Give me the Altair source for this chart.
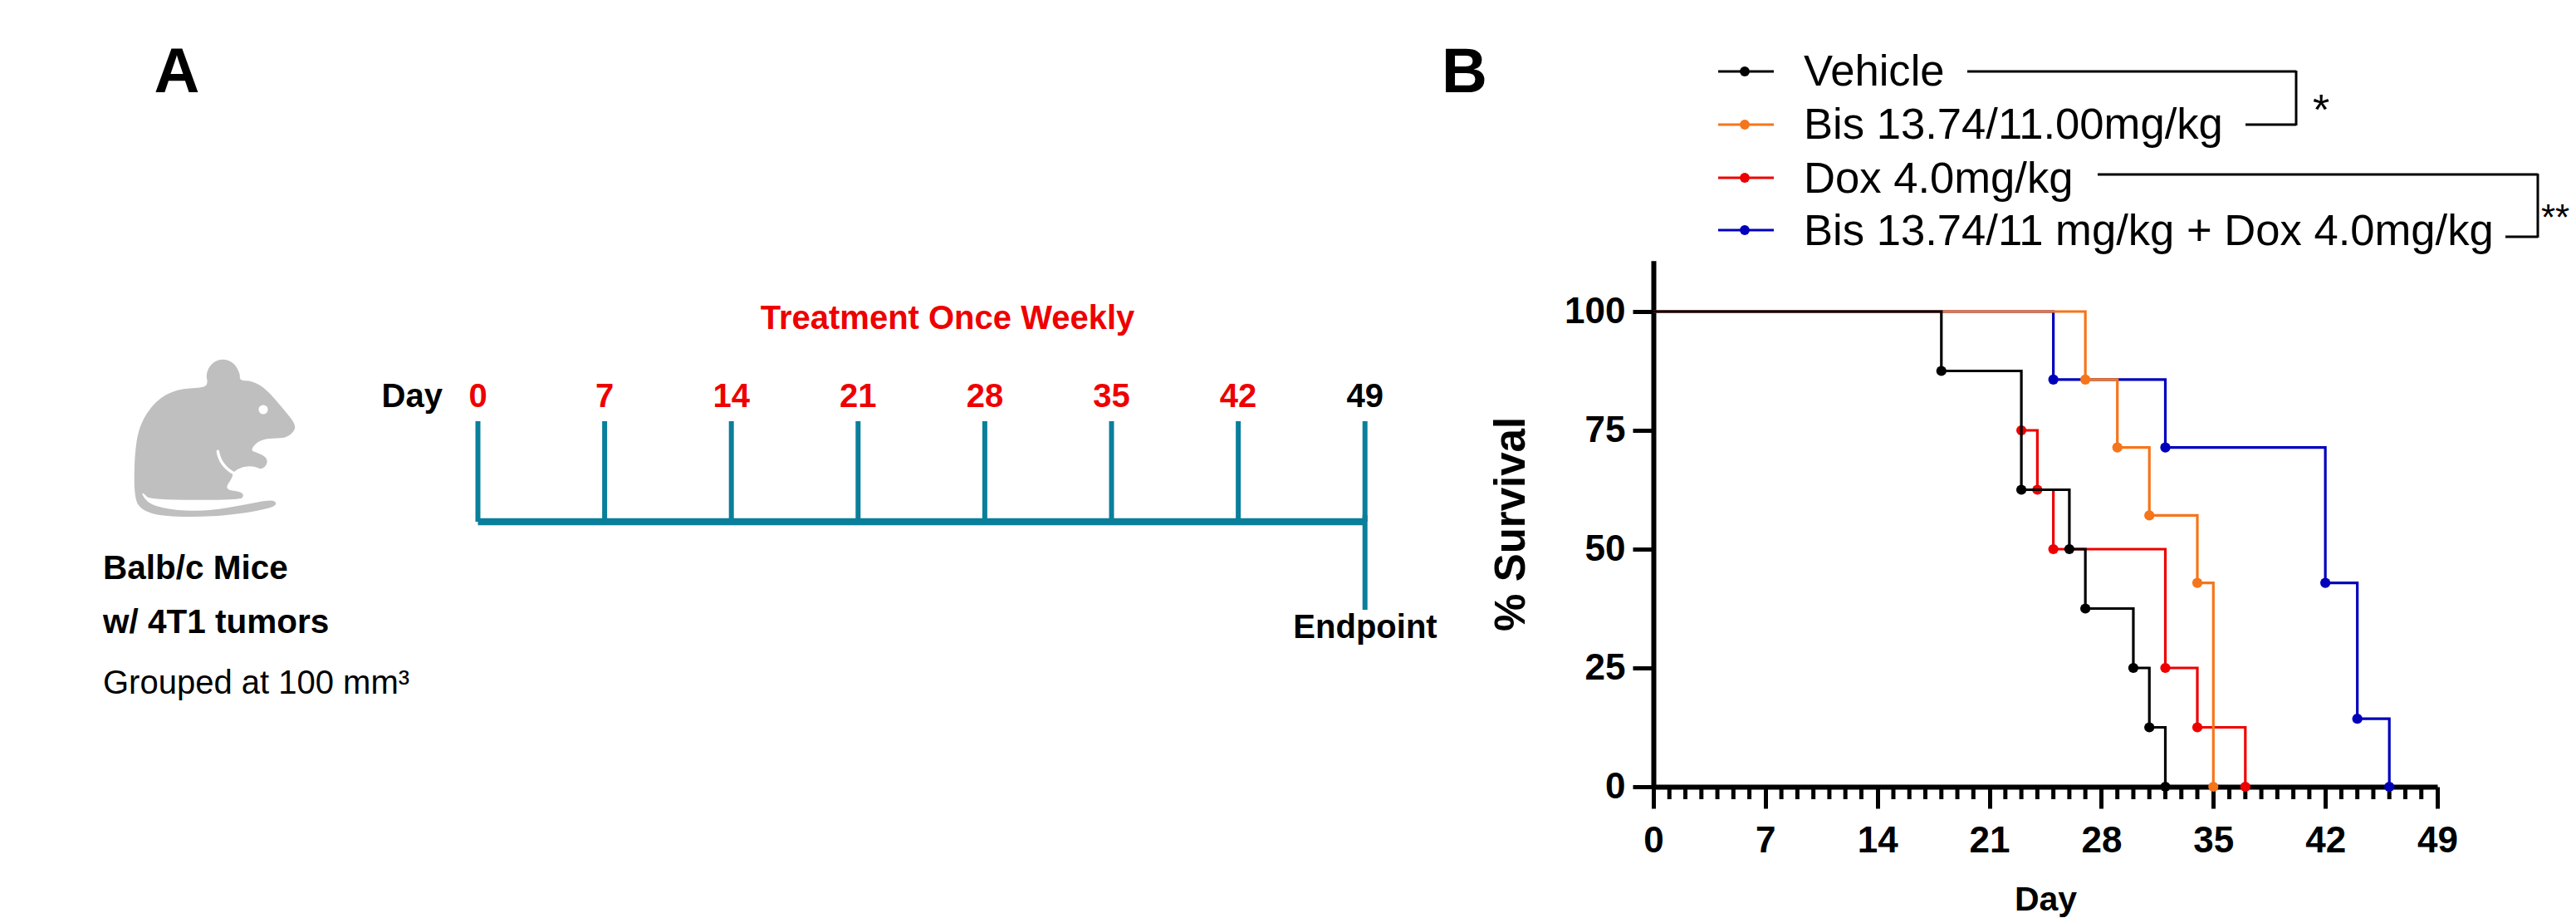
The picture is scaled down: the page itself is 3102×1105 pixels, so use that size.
import altair as alt
import pandas as pd

# ---- data ----
vehicle_days = [0, 18, 23, 26, 27, 30, 31, 32]
vehicle_surv = [100, 87.5, 62.5, 50, 37.5, 25, 12.5, 0]
bis_days = [0, 27, 29, 31, 34, 35]
bis_surv = [100, 85.7, 71.4, 57.1, 42.9, 0]
dox_days = [23, 24, 25, 32, 34, 37]
dox_surv = [75, 62.5, 50, 25, 12.5, 0]
combo_days = [0, 25, 32, 42, 44, 46]
combo_surv = [100, 85.7, 71.4, 42.9, 14.3, 0]

legend_names = ["Vehicle", "Bis 13.74/11.00mg/kg", "Dox 4.0mg/kg",
                "Bis 13.74/11 mg/kg + Dox 4.0mg/kg"]
x_ticks = [0, 7, 14, 21, 28, 35, 42, 49]
x_minor = [d for d in range(50) if d % 7]
y_ticks = [0, 25, 50, 75, 100]
timeline_days = [0, 7, 14, 21, 28, 35, 42, 49]

BLACK, ORANGE, RED, BLUE = "#000000", "#F5751B", "#EE0000", "#0000BB"
TEAL, GRAY = "#0A7F9B", "#BFBFBF"
FONT = "Liberation Sans"
W, H = 3086, 1097


def px(v):  # page pixel -> chart pixel
    return v - 8


def label(text, x, y, size, color=BLACK, bold=False, align="left"):
    kw = dict(font=FONT, fontSize=size, color=color, align=align,
              baseline="alphabetic", fontWeight="bold" if bold else "normal")
    return alt.Chart(pd.DataFrame({"t": [text]})).mark_text(**kw).encode(
        text="t:N", x=alt.value(px(x)), y=alt.value(px(y)))


def seg(x1, y1, x2, y2, color=BLACK, sw=3):
    return alt.Chart(pd.DataFrame({"a": [0]})).mark_rule(color=color, strokeWidth=sw).encode(
        x=alt.value(px(x1)), x2=alt.value(px(x2)), y=alt.value(px(y1)), y2=alt.value(px(y2)))


# ---- scales of panel B ----
sx = alt.Scale(domain=[0, 49], range=[px(1991), px(2935)], nice=False, zero=False)
sy = alt.Scale(domain=[0, 110.7], range=[px(947), px(947) - 110.7 * 5.72], nice=False, zero=False)
# ---- scale of the timeline in panel A ----
stl = alt.Scale(domain=[0, 49], range=[px(575.5), px(575.5) + 49 * 21.8], nice=False, zero=False)

layers = []

# axes of panel B (carried by an invisible point layer)
axes_df = pd.DataFrame({"d": [0, 49], "s": [0, 100]})
layers.append(
    alt.Chart(axes_df).mark_point(opacity=0).encode(
        x=alt.X("d:Q", scale=sx, axis=alt.Axis(
            values=x_ticks, title="Day", offset=px(947) - H, grid=False,
            domainColor=BLACK, domainWidth=6, tickColor=BLACK, tickWidth=5, tickSize=26,
            labelFont=FONT, labelFontSize=44, labelFontWeight="bold", labelColor=BLACK,
            labelPadding=17, labelFlush=False, labelOverlap=False, format="d",
            titleFont=FONT, titleFontSize=41, titleFontWeight="bold", titleColor=BLACK,
            titlePadding=29)),
        y=alt.Y("s:Q", scale=sy, axis=alt.Axis(
            values=y_ticks, title="% Survival", offset=-px(1991), grid=False,
            domainColor=BLACK, domainWidth=6, tickColor=BLACK, tickWidth=5, tickSize=25,
            labelFont=FONT, labelFontSize=44, labelFontWeight="bold", labelColor=BLACK,
            labelPadding=9, labelFlush=False, labelOverlap=False, format="d",
            titleFont=FONT, titleFontSize=51, titleFontWeight="bold", titleColor=BLACK,
            titlePadding=37)),
    )
)

# minor day ticks
layers.append(
    alt.Chart(pd.DataFrame({"d": x_minor})).mark_rule(color=BLACK, strokeWidth=5).encode(
        x=alt.X("d:Q", scale=sx, axis=None),
        y=alt.value(px(947)), y2=alt.value(px(962)))
)

# survival curves: blue, red, orange, black, from bottom to top
for days, surv, col in [(combo_days, combo_surv, BLUE), (dox_days, dox_surv, RED),
                        (bis_days, bis_surv, ORANGE), (vehicle_days, vehicle_surv, BLACK)]:
    df = pd.DataFrame({"d": days, "s": surv})
    layers.append(
        alt.Chart(df).mark_line(color=col, strokeWidth=3.2, interpolate="step-after").encode(
            x=alt.X("d:Q", scale=sx, axis=None), y=alt.Y("s:Q", scale=sy, axis=None))
    )
    layers.append(
        alt.Chart(df[df.s < 100]).mark_point(color=col, fill=col, filled=True, size=150, opacity=1).encode(
            x=alt.X("d:Q", scale=sx, axis=None), y=alt.Y("s:Q", scale=sy, axis=None))
    )

# legend of panel B
legend_y = [86, 150, 214, 277]
legend_base = [103, 167, 232, 295]
for name, col, ly, lb in zip(legend_names, [BLACK, ORANGE, RED, BLUE], legend_y, legend_base):
    layers.append(seg(2069, ly, 2136, ly, col, 3.2))
    layers.append(
        alt.Chart(pd.DataFrame({"a": [0]})).mark_point(color=col, fill=col, filled=True, size=140, opacity=1).encode(
            x=alt.value(px(2101)), y=alt.value(px(ly)))
    )
    layers.append(label(name, 2172, lb, 52.6))

# significance brackets
layers += [seg(2369, 86, 2765, 86), seg(2765, 85, 2765, 151), seg(2704, 150, 2765, 150)]
layers += [seg(2526, 210, 3056, 210), seg(3056, 209, 3056, 286), seg(3017, 285, 3056, 285)]
layers.append(label("*", 2785, 150, 52))
layers.append(label("**", 3060, 277, 44))

# panel letters
layers.append(label("A", 213, 111, 76, bold=True, align="center"))
layers.append(label("B", 1736, 111, 76, bold=True))

# ---- panel A: timeline ----
layers.append(
    alt.Chart(pd.DataFrame({"d": timeline_days})).mark_rule(color=TEAL, strokeWidth=6).encode(
        x=alt.X("d:Q", scale=stl, axis=None),
        y=alt.value(px(507)), y2=alt.value(px(628)))
)
layers.append(
    alt.Chart(pd.DataFrame({"d": [0], "e": [49]})).mark_rule(color=TEAL, strokeWidth=8.5).encode(
        x=alt.X("d:Q", scale=stl, axis=None), x2="e:Q",
        y=alt.value(px(628)))
)
layers.append(
    alt.Chart(pd.DataFrame({"d": [49]})).mark_rule(color=TEAL, strokeWidth=6).encode(
        x=alt.X("d:Q", scale=stl, axis=None),
        y=alt.value(px(620)), y2=alt.value(px(734)))
)
tl_df = pd.DataFrame({"d": timeline_days, "t": [str(v) for v in timeline_days],
                      "c": [RED] * 7 + [BLACK]})
layers.append(
    alt.Chart(tl_df).mark_text(font=FONT, fontSize=40, fontWeight="bold", baseline="alphabetic").encode(
        x=alt.X("d:Q", scale=stl, axis=None), y=alt.value(px(490)), text="t:N",
        color=alt.Color("c:N", scale=None, legend=None))
)
layers.append(label("Day", 533, 490, 40, bold=True, align="right"))
layers.append(label("Treatment Once Weekly", 1141, 396, 40, RED, bold=True, align="center"))
layers.append(label("Endpoint", 1644, 768, 40, bold=True, align="center"))

# mouse drawing (outline, anchored at page 80,30)
mouse_outline = [
    (245, 960), (262, 890), (320, 835), (400, 808), (490, 806), (512, 798), (503, 775), (525, 750),
    (565, 741), (605, 750), (628, 775), (625, 790), (670, 790), (720, 808), (780, 850), (830, 888),
    (820, 905), (790, 918), (730, 918), (690, 925), (664, 945), (690, 950), (722, 960), (727, 975),
    (705, 988), (680, 980), (640, 980), (602, 992), (600, 1005), (570, 1032), (630, 1036), (642, 1046),
    (625, 1055), (300, 1055), (280, 1040), (270, 1040), (300, 1066), (400, 1079), (520, 1079),
    (640, 1066), (742, 1054), (761, 1062), (745, 1072), (640, 1085), (500, 1093), (340, 1091),
    (270, 1077), (245, 1050),
]
pts = [(a / 3, b / 1.845) for a, b in mouse_outline]
mids = [((pts[i][0] + pts[(i + 1) % len(pts)][0]) / 2, (pts[i][1] + pts[(i + 1) % len(pts)][1]) / 2)
        for i in range(len(pts))]
path = "M%.1f %.1f" % mids[-1]
for p, m in zip(pts, mids):
    path += " Q%.1f %.1f %.1f %.1f" % (p[0], p[1], m[0], m[1])
path += " Z"
anchor = pd.DataFrame({"a": [0]})
layers.append(
    alt.Chart(anchor).mark_point(shape=path, size=4, filled=True, fill=GRAY, opacity=1, strokeWidth=0).encode(
        x=alt.value(px(80)), y=alt.value(px(30)))
)
arm = "M%.1f %.1f Q%.1f %.1f %.1f %.1f" % (547 / 3, 947 / 1.845, 555 / 3, 978 / 1.845, 602 / 3, 995 / 1.845)
layers.append(
    alt.Chart(anchor).mark_point(shape=arm, size=4, filled=False, stroke="#FFFFFF", strokeWidth=3.5,
                                 opacity=1, strokeCap="round").encode(
        x=alt.value(px(80)), y=alt.value(px(30)))
)
layers.append(
    alt.Chart(anchor).mark_point(shape="circle", size=125, filled=True, fill="#FFFFFF", opacity=1).encode(
        x=alt.value(px(317)), y=alt.value(px(493)))
)

# panel A captions
layers.append(label("Balb/c Mice", 124, 697, 40.5, bold=True))
layers.append(label("w/ 4T1 tumors", 124, 762, 40.5, bold=True))
layers.append(label("Grouped at 100 mm³", 124, 835, 40))

chart = alt.layer(*layers).resolve_scale(x="independent", y="independent").properties(
    width=W, height=H, padding=0,
    autosize=alt.AutoSizeParams(type="none", contains="padding"),
    background="#FFFFFF",
).configure_view(stroke=None)

chart.save("out.html", embed_options={"renderer": "svg", "actions": False})
